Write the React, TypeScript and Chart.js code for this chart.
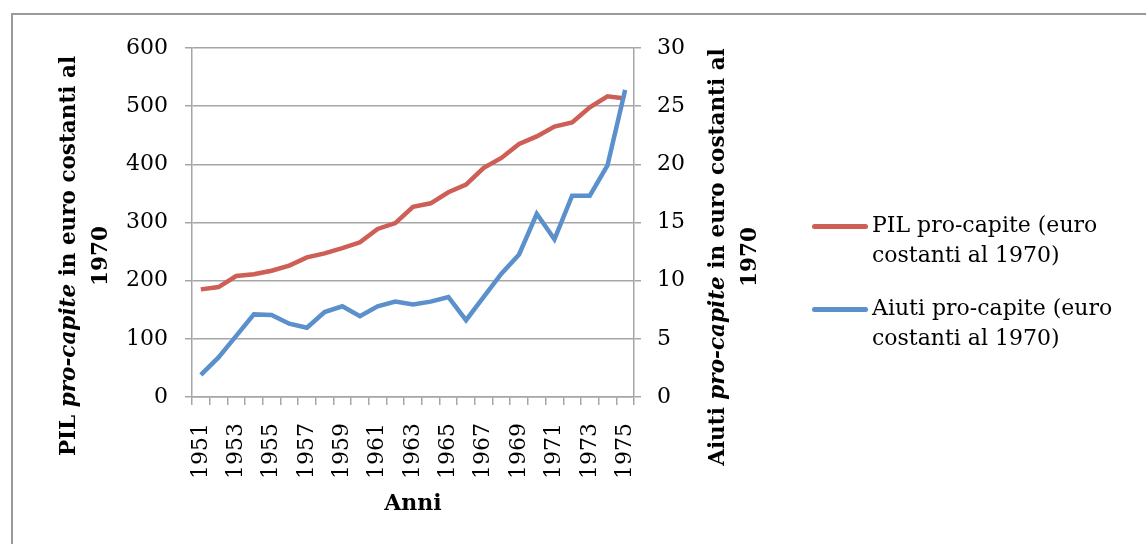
import React, { useEffect, useRef } from "react";
import { Chart, registerables } from "chart.js";

Chart.register(...registerables);

const years: string[] = [
  "1951", "1952", "1953", "1954", "1955", "1956", "1957", "1958", "1959", "1960",
  "1961", "1962", "1963", "1964", "1965", "1966", "1967", "1968", "1969", "1970",
  "1971", "1972", "1973", "1974", "1975",
];

const pilProCapite: number[] = [
  185, 189, 208, 211, 217, 226, 240, 247, 256, 266,
  289, 299, 327, 333, 352, 365, 394, 411, 435, 448,
  465, 472, 498, 517, 513,
];

const aiutiProCapite: number[] = [
  1.9, 3.4, 5.25, 7.1, 7.05, 6.3, 5.95, 7.3, 7.8, 6.95,
  7.8, 8.2, 7.95, 8.2, 8.6, 6.6, 8.6, 10.6, 12.25, 15.75,
  13.55, 17.3, 17.3, 19.9, 26.4,
];

const pilTicks = { min: 0, max: 600, step: 100 };
const aiutiTicks = { min: 0, max: 30, step: 5 };

const legendLabels: string[][] = [
  ["PIL pro-capite (euro", "costanti al 1970)"],
  ["Aiuti pro-capite (euro", "costanti al 1970)"],
];

const RED = "#CD5F56";
const BLUE = "#5A90CC";
const GRID = "#A6A6A6";
const FONT = "'DejaVu Serif', serif";
const FS = 22;
const TITLE_FS = 21.5;

export default function App() {
  const canvasRef = useRef<HTMLCanvasElement | null>(null);

  useEffect(() => {
    const canvas = canvasRef.current;
    if (!canvas) return;
    const chart = new Chart(canvas, {
      type: "line",
      data: {
        labels: years,
        datasets: [
          {
            label: "PIL pro-capite (euro costanti al 1970)",
            data: pilProCapite,
            yAxisID: "y",
            borderColor: RED,
            backgroundColor: RED,
            borderWidth: 4.5,
            pointRadius: 0,
            tension: 0,
            order: 1,
          },
          {
            label: "Aiuti pro-capite (euro costanti al 1970)",
            data: aiutiProCapite,
            yAxisID: "y1",
            borderColor: BLUE,
            backgroundColor: BLUE,
            borderWidth: 4.5,
            pointRadius: 0,
            tension: 0,
            order: 0,
          },
        ],
      },
      options: {
        responsive: false,
        animation: false,
        layout: { padding: { left: 0, right: 1146 - 634 - 60, top: 48, bottom: 544 - 397 - 110 } },
        plugins: { legend: { display: false }, tooltip: { enabled: false } },
        scales: {
          x: {
            type: "category",
            offset: true,
            afterFit: (s: any) => { s.height = 110; },
            grid: {
              offset: true,
              drawOnChartArea: false,
              drawTicks: true,
              tickLength: 8,
              color: GRID,
              lineWidth: 1.5,
            },
            border: { display: true, color: GRID, width: 1.5 },
            ticks: {
              autoSkip: false,
              maxRotation: 90,
              minRotation: 90,
              padding: 18,
              color: "#000",
              font: { family: FONT, size: FS },
              callback: (_v: any, i: number) => (i % 2 === 0 ? years[i] : ""),
            },
          },
          y: {
            position: "left",
            min: pilTicks.min,
            max: pilTicks.max,
            afterFit: (s: any) => { s.width = 192; },
            grid: { color: GRID, lineWidth: 1.5, tickLength: 7, drawTicks: true },
            border: { display: true, color: GRID, width: 1.5 },
            ticks: {
              stepSize: pilTicks.step,
              padding: 17,
              color: "#000",
              font: { family: FONT, size: FS },
            },
          },
          y1: {
            position: "right",
            min: aiutiTicks.min,
            max: aiutiTicks.max,
            afterFit: (s: any) => { s.width = 60; },
            grid: { drawOnChartArea: false, color: GRID, lineWidth: 1.5, tickLength: 7, drawTicks: true },
            border: { display: true, color: GRID, width: 1.5 },
            ticks: {
              stepSize: aiutiTicks.step,
              padding: 16,
              color: "#000",
              font: { family: FONT, size: FS },
            },
          },
        },
      },
    } as any);
    return () => chart.destroy();
  }, []);

  const titleStyle = (cx: number, cy: number, w: number): React.CSSProperties => ({
    position: "absolute",
    left: cx - w / 2,
    top: cy - 32,
    width: w,
    height: 64,
    lineHeight: "32px",
    textAlign: "center",
    transform: "rotate(-90deg)",
    transformOrigin: "50% 50%",
    fontFamily: FONT,
    fontSize: TITLE_FS,
    fontWeight: "bold",
    color: "#000",
    whiteSpace: "nowrap",
  });

  return (
    <div
      style={{
        position: "absolute",
        left: 0,
        top: 0,
        width: 1146,
        height: 544,
        overflow: "hidden",
        background: "#fff",
      }}
    >
      <div
        style={{
          position: "absolute",
          left: 11,
          top: 13,
          width: 1300,
          height: 700,
          border: "2px solid #9A9A9A",
        }}
      />
      <canvas ref={canvasRef} width={1146} height={544} style={{ position: "absolute", left: 0, top: 0 }} />
      <div style={titleStyle(84, 256, 440)}>
        PIL <i>pro-capite</i> in euro costanti al
        <br />
        1970
      </div>
      <div style={titleStyle(733, 257, 440)}>
        Aiuti <i>pro-capite</i> in euro costanti al
        <br />
        1970
      </div>
      <div
        style={{
          position: "absolute",
          left: 313,
          top: 486,
          width: 200,
          textAlign: "center",
          fontFamily: FONT,
          fontSize: FS,
          fontWeight: "bold",
          lineHeight: "33px",
        }}
      >
        Anni
      </div>
      {legendLabels.map((lines, i) => (
        <div key={i} style={{ position: "absolute", left: 812, top: 210 + i * 83 }}>
          <div
            style={{
              position: "absolute",
              left: 0,
              top: 14,
              width: 56,
              height: 5,
              borderRadius: 3,
              background: i === 0 ? RED : BLUE,
            }}
          />
          <div
            style={{
              position: "absolute",
              left: 60,
              top: 0,
              whiteSpace: "nowrap",
              fontFamily: FONT,
              fontSize: FS,
              lineHeight: "30px",
              color: "#000",
            }}
          >
            {lines[0]}
            <br />
            {lines[1]}
          </div>
        </div>
      ))}
    </div>
  );
}
